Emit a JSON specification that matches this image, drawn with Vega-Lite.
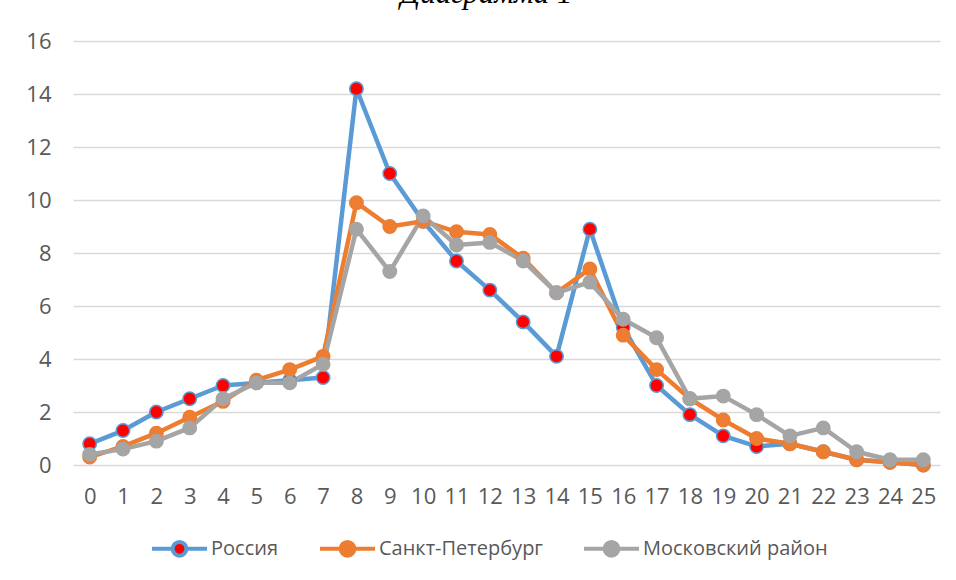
{
  "$schema": "https://vega.github.io/schema/vega-lite/v6.json",
  "width": 867,
  "height": 424,
  "autosize": {"type": "none"},
  "padding": {"left": 73, "top": 41, "right": 16, "bottom": 115},
  "background": "white",
  "title": {"text": "Диаграмма 1", "font": "Liberation Serif", "fontStyle": "italic", "fontWeight": "normal", "fontSize": 31, "color": "#000000", "anchor": "middle", "frame": "group", "baseline": "alphabetic", "offset": 8, "dx": -20, "dy": 12},
  "datasets": {
    "d": [
      {"x": 0, "series": "Россия", "value": 0.8}, {"x": 1, "series": "Россия", "value": 1.3}, {"x": 2, "series": "Россия", "value": 2.0}, {"x": 3, "series": "Россия", "value": 2.5}, {"x": 4, "series": "Россия", "value": 3.0}, {"x": 5, "series": "Россия", "value": 3.1}, {"x": 6, "series": "Россия", "value": 3.2}, {"x": 7, "series": "Россия", "value": 3.3}, {"x": 8, "series": "Россия", "value": 14.2}, {"x": 9, "series": "Россия", "value": 11.0}, {"x": 10, "series": "Россия", "value": 9.2}, {"x": 11, "series": "Россия", "value": 7.7}, {"x": 12, "series": "Россия", "value": 6.6}, {"x": 13, "series": "Россия", "value": 5.4}, {"x": 14, "series": "Россия", "value": 4.1}, {"x": 15, "series": "Россия", "value": 8.9}, {"x": 16, "series": "Россия", "value": 5.2}, {"x": 17, "series": "Россия", "value": 3.0}, {"x": 18, "series": "Россия", "value": 1.9}, {"x": 19, "series": "Россия", "value": 1.1}, {"x": 20, "series": "Россия", "value": 0.7}, {"x": 21, "series": "Россия", "value": 0.8}, {"x": 22, "series": "Россия", "value": 0.5}, {"x": 23, "series": "Россия", "value": 0.2}, {"x": 24, "series": "Россия", "value": 0.1}, {"x": 25, "series": "Россия", "value": 0.0},
      {"x": 0, "series": "Санкт-Петербург", "value": 0.3}, {"x": 1, "series": "Санкт-Петербург", "value": 0.7}, {"x": 2, "series": "Санкт-Петербург", "value": 1.2}, {"x": 3, "series": "Санкт-Петербург", "value": 1.8}, {"x": 4, "series": "Санкт-Петербург", "value": 2.4}, {"x": 5, "series": "Санкт-Петербург", "value": 3.2}, {"x": 6, "series": "Санкт-Петербург", "value": 3.6}, {"x": 7, "series": "Санкт-Петербург", "value": 4.1}, {"x": 8, "series": "Санкт-Петербург", "value": 9.9}, {"x": 9, "series": "Санкт-Петербург", "value": 9.0}, {"x": 10, "series": "Санкт-Петербург", "value": 9.2}, {"x": 11, "series": "Санкт-Петербург", "value": 8.8}, {"x": 12, "series": "Санкт-Петербург", "value": 8.7}, {"x": 13, "series": "Санкт-Петербург", "value": 7.8}, {"x": 14, "series": "Санкт-Петербург", "value": 6.5}, {"x": 15, "series": "Санкт-Петербург", "value": 7.4}, {"x": 16, "series": "Санкт-Петербург", "value": 4.9}, {"x": 17, "series": "Санкт-Петербург", "value": 3.6}, {"x": 18, "series": "Санкт-Петербург", "value": 2.5}, {"x": 19, "series": "Санкт-Петербург", "value": 1.7}, {"x": 20, "series": "Санкт-Петербург", "value": 1.0}, {"x": 21, "series": "Санкт-Петербург", "value": 0.8}, {"x": 22, "series": "Санкт-Петербург", "value": 0.5}, {"x": 23, "series": "Санкт-Петербург", "value": 0.2}, {"x": 24, "series": "Санкт-Петербург", "value": 0.1}, {"x": 25, "series": "Санкт-Петербург", "value": 0.0},
      {"x": 0, "series": "Московский район", "value": 0.4}, {"x": 1, "series": "Московский район", "value": 0.6}, {"x": 2, "series": "Московский район", "value": 0.9}, {"x": 3, "series": "Московский район", "value": 1.4}, {"x": 4, "series": "Московский район", "value": 2.5}, {"x": 5, "series": "Московский район", "value": 3.1}, {"x": 6, "series": "Московский район", "value": 3.1}, {"x": 7, "series": "Московский район", "value": 3.8}, {"x": 8, "series": "Московский район", "value": 8.9}, {"x": 9, "series": "Московский район", "value": 7.3}, {"x": 10, "series": "Московский район", "value": 9.4}, {"x": 11, "series": "Московский район", "value": 8.3}, {"x": 12, "series": "Московский район", "value": 8.4}, {"x": 13, "series": "Московский район", "value": 7.7}, {"x": 14, "series": "Московский район", "value": 6.5}, {"x": 15, "series": "Московский район", "value": 6.9}, {"x": 16, "series": "Московский район", "value": 5.5}, {"x": 17, "series": "Московский район", "value": 4.8}, {"x": 18, "series": "Московский район", "value": 2.5}, {"x": 19, "series": "Московский район", "value": 2.6}, {"x": 20, "series": "Московский район", "value": 1.9}, {"x": 21, "series": "Московский район", "value": 1.1}, {"x": 22, "series": "Московский район", "value": 1.4}, {"x": 23, "series": "Московский район", "value": 0.5}, {"x": 24, "series": "Московский район", "value": 0.2}, {"x": 25, "series": "Московский район", "value": 0.2}
    ]
  },
  "data": {"name": "d"},
  "encoding": {
    "x": {"field": "x", "type": "ordinal", "scale": {"type": "point", "padding": 0.5},
      "axis": {"title": null, "labelAngle": 0, "domain": false, "ticks": false, "grid": false, "labelOverlap": false, "labelPadding": 21, "labelFontSize": 22, "labelFont": "Open Sans", "labelColor": "#595959"}},
    "y": {"field": "value", "type": "quantitative", "scale": {"domain": [0, 16], "nice": false},
      "axis": {"title": null, "values": [0, 2, 4, 6, 8, 10, 12, 14, 16], "domain": false, "ticks": false, "grid": true, "gridColor": "#d9d9d9", "gridWidth": 1.5, "labelPadding": 22, "labelFontSize": 22, "labelFont": "Open Sans", "labelColor": "#595959"}}
  },
  "layer": [
    {
      "mark": {"type": "line", "strokeWidth": 4.5, "strokeJoin": "round", "strokeCap": "round"},
      "encoding": {
        "stroke": {"field": "series", "type": "nominal", "sort": null, "scale": {"domain": ["Россия", "Санкт-Петербург", "Московский район"], "range": ["#5B9BD5", "#ED7D31", "#A5A5A5"]}}
      }
    },
    {
      "mark": {"type": "point", "shape": "circle", "filled": true, "size": 180, "strokeWidth": 1.5, "opacity": 1},
      "encoding": {
        "stroke": {"field": "series", "type": "nominal", "sort": null},
        "fill": {"field": "series", "type": "nominal", "sort": null, "scale": {"domain": ["Россия", "Санкт-Петербург", "Московский район"], "range": ["#FF0000", "#ED7D31", "#A5A5A5"]}}
      }
    }
  ],
  "config": {
    "view": {"stroke": null},
    "legend": {
      "orient": "none", "legendX": 77, "legendY": 478, "direction": "horizontal", "title": null, "padding": 0,
      "symbolType": "M-1,0L-0.25,0M0.25,0L1,0M-0.25,0A0.25,0.25,0,1,0,0.25,0A0.25,0.25,0,1,0,-0.25,0Z",
      "symbolSize": 3025, "symbolStrokeWidth": 4, "symbolOpacity": 1,
      "labelFont": "Open Sans", "labelFontSize": 20, "labelColor": "#595959", "labelOffset": 2, "labelLimit": 400, "columnPadding": 33
    }
  }
}
